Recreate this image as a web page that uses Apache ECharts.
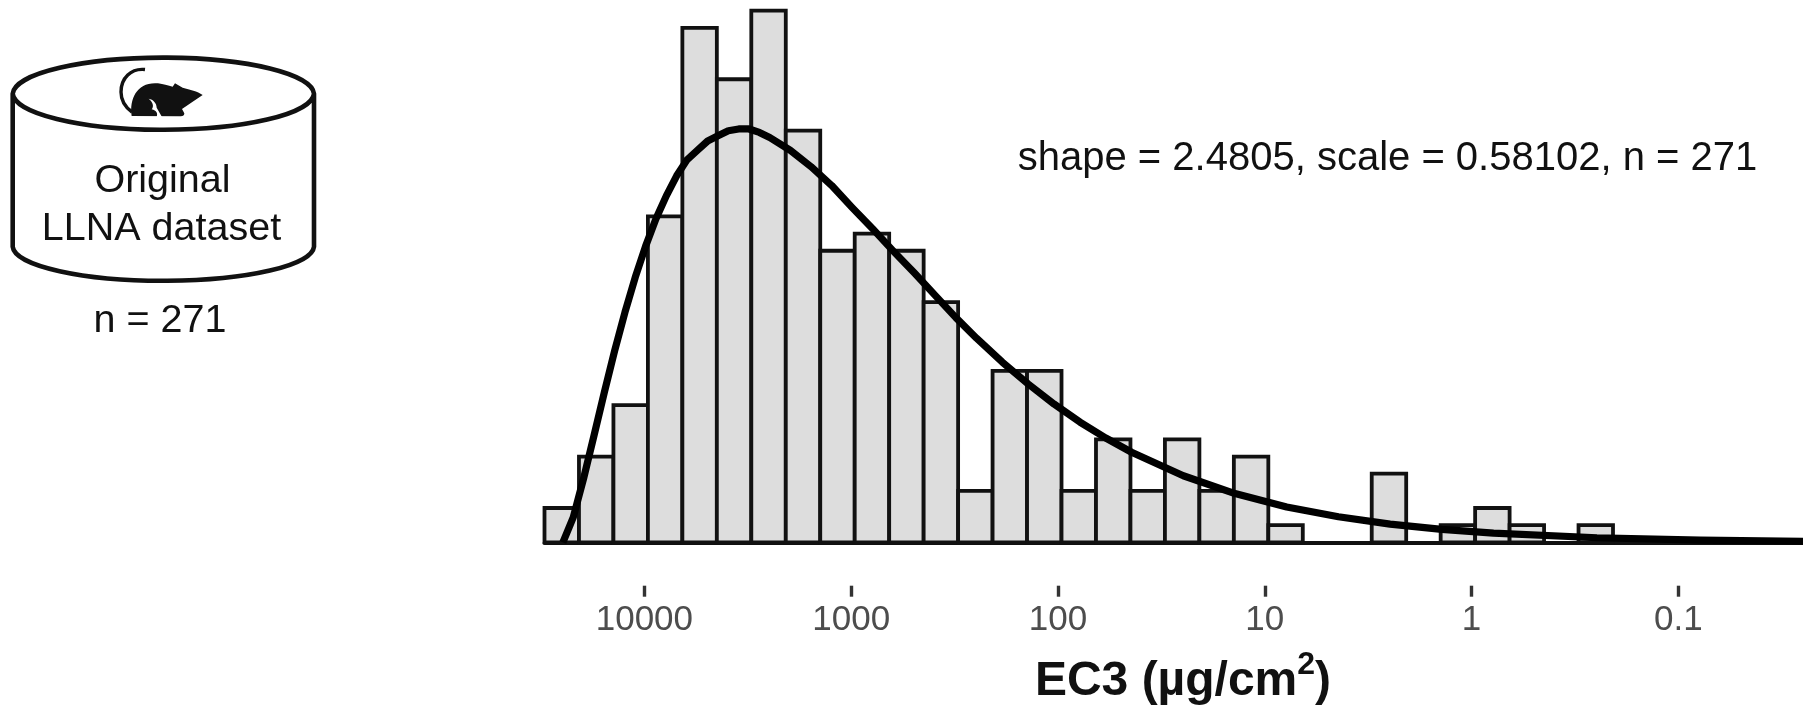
<!DOCTYPE html>
<html><head><meta charset="utf-8">
<style>html,body{margin:0;padding:0;background:#fff}#c{width:1803px;height:708px}</style>
<script src="https://cdn.jsdelivr.net/npm/echarts@6/dist/echarts.min.js"></script>
</head><body><div id="c"></div>
<script>
// Histogram counts per bin, left to right (high EC3 to low EC3)
const binCounts = [2,5,8,19,30,27,31,24,17,18,17,14,3,10,10,3,6,3,6,3,5,1,0,0,4,0,1,2,1,0,1];
const firstBinEdgeLog = 4.483;
const binWidthLog = 0.16667;
// Fitted curve: log10(EC3), count height
const curveLog = [4.394,4.344,4.294,4.244,4.194,4.144,4.094,4.044,3.994,3.944,3.894,3.844,3.794,3.744,3.694,3.644,3.594,3.544,3.494,3.444,3.394,3.294,3.194,3.094,2.994,2.894,2.794,2.694,2.594,2.494,2.394,2.269,2.144,2.019,1.894,1.769,1.644,1.394,1.144,0.894,0.644,0.394,0.144,-0.106,-0.606,-1.106,-1.606,-1.7];
const curveCount = [0,1.45,3.72,6.21,8.73,11.16,13.41,15.46,17.27,18.86,20.2,21.37,22.3,22.85,23.4,23.7,24.0,24.1,24.1,23.9,23.6,22.85,21.9,20.8,19.5,18.25,16.95,15.7,14.4,13.1,11.9,10.5,9.23,8.06,7.01,6.08,5.25,3.88,2.84,2.06,1.49,1.06,0.757,0.536,0.265,0.129,0.062,0.05];
const tickValues = [4,3,2,1,0,-1];
const tickLabels = ['10000','1000','100','10','1','0.1'];

const FONT = '"Liberation Sans", Arial, sans-serif';
const barData = binCounts.map((c,i)=>[firstBinEdgeLog - i*binWidthLog, firstBinEdgeLog - (i+1)*binWidthLog, c]);
const xMax = 4.483, xMin = -1.6025;

const cylinder = 'M12.7,93.7 A150.7,37 0 0 1 314,93.7 A150.7,37 0 0 1 12.7,93.7 Z M12.7,93.7 L12.7,246.7 A150.7,35 0 0 0 314,246.7 L314,93.7';
const mouseBody = 'M395,228 C388,178 410,130 465,130 C490,130 505,138 518,140 L525,130 L548,143 C570,149 592,153 608,165 L578,185 L546,207 L553,220 Q553,230 540,229 L395,228 Z';
const mouseNotch = 'M446,176 C460,178 470,190 470,203 L486,231 L470,231 C474,220 470,212 455,208 C463,198 458,186 446,176 Z';
const mouseTail = 'M145,69.5 C131,68 121,78 121,92 C121,100 125,107 132,112';
echarts.graphic.registerShape('cylinderShape', echarts.graphic.extendPath(cylinder));
echarts.graphic.registerShape('mouseBodyShape', echarts.graphic.extendPath(mouseBody));
echarts.graphic.registerShape('mouseNotchShape', echarts.graphic.extendPath(mouseNotch));
echarts.graphic.registerShape('mouseTailShape', echarts.graphic.extendPath(mouseTail));

const chart = echarts.init(document.getElementById('c'), null, {renderer:'canvas'});

function label(text, x, y, size, extra){
  return {type:'text', z:20, x:x, y:y, style:Object.assign({text:text, fill:'#111', font:size+'px '+FONT, align:'center', verticalAlign:'middle'}, extra||{})};
}

chart.setOption({
  animation:false,
  backgroundColor:'#fff',
  grid:{left:544.5,right:0,top:0,bottom:165.7,containLabel:false},
  xAxis:[
    {type:'value',inverse:true,min:xMin,max:xMax,position:'bottom',
     axisLine:{show:true,onZero:false,lineStyle:{color:'#111',width:3.8}},
     axisTick:{show:false},axisLabel:{show:false},splitLine:{show:false}},
    {type:'value',inverse:true,min:xMin,max:xMax,position:'bottom',offset:43.4,
     axisLine:{show:false,onZero:false},
     axisTick:{show:true,customValues:tickValues,length:11,lineStyle:{color:'#333',width:3.4}},
     axisLabel:{show:true,customValues:tickValues,margin:17,showMinLabel:true,showMaxLabel:true,
       color:'#4D4D4D',fontFamily:FONT,fontSize:35,
       formatter:v=>tickLabels[tickValues.indexOf(Math.round(v))]},
     splitLine:{show:false}}
  ],
  yAxis:{type:'value',min:0,max:31.62,show:false},
  series:[
    {type:'custom',xAxisIndex:0,yAxisIndex:0,clip:false,data:barData,
     encode:{x:[0,1],y:2},
     renderItem:(p,api)=>{
       const c=api.value(2); if(!c) return;
       const a=api.coord([api.value(0),c]), b=api.coord([api.value(1),0]);
       return {type:'rect',shape:{x:a[0],y:a[1],width:b[0]-a[0],height:b[1]-a[1]},
         style:{fill:'#DDDDDD',stroke:'#111',lineWidth:3.8}};
     }},
    {type:'line',xAxisIndex:0,yAxisIndex:0,clip:false,smooth:false,showSymbol:false,z:10,
     data:curveLog.map((x,i)=>[x,curveCount[i]]),
     lineStyle:{color:'#000',width:7.2,cap:'butt',join:'round'}}
  ],
  graphic:[
    {type:'cylinderShape',z:20,style:{fill:'none',stroke:'#111',lineWidth:4.6}},
    {type:'mouseTailShape',z:20,style:{fill:'none',stroke:'#111',lineWidth:3.4}},
    {type:'mouseBodyShape',z:20,x:0,y:40,scaleX:1/3,scaleY:1/3,style:{fill:'#111'}},
    {type:'mouseNotchShape',z:21,x:0,y:40,scaleX:1/3,scaleY:1/3,style:{fill:'#fff'}},
    label('Original',162.5,181,39.5),
    label('LLNA dataset',161.5,229,39.5),
    label('n = 271',160,321.5,39.5),
    label('shape = 2.4805, scale = 0.58102, n = 271',1387.5,158.5,40),
    {type:'text',z:20,x:1183,y:677.5,style:{
      text:'{b|EC3 (µg/cm}{s|2}{b|)}',align:'center',verticalAlign:'middle',
      rich:{b:{font:'bold 48px '+FONT,fill:'#111',verticalAlign:'bottom',padding:[9,0,0,0]},
            s:{font:'bold 32px '+FONT,fill:'#111',verticalAlign:'top'}}}}
  ]
});
</script></body></html>
